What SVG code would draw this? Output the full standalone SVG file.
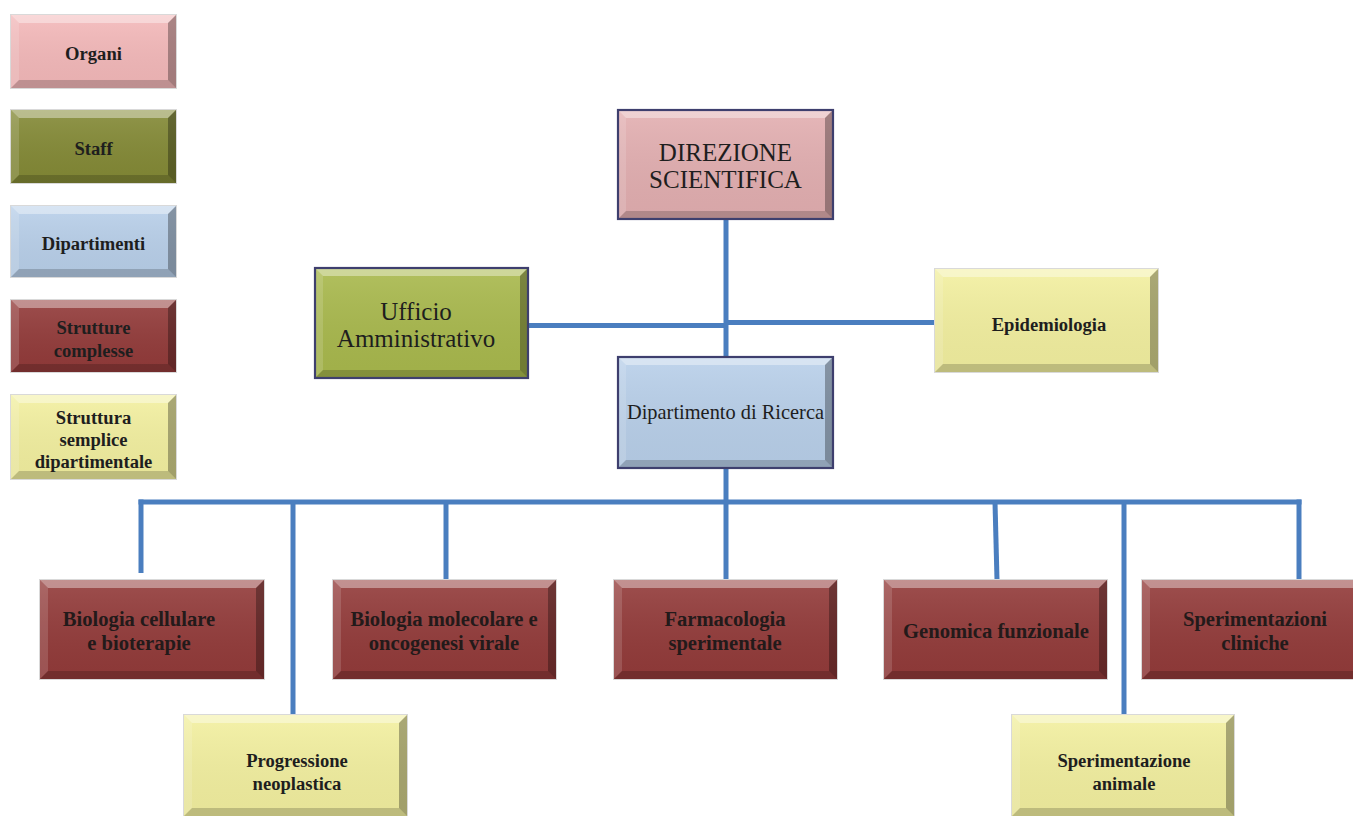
<svg xmlns="http://www.w3.org/2000/svg" width="1353" height="816" viewBox="0 0 1353 816">
  <defs>
    <style>
      .lbl { font-family: "Liberation Serif", "Times New Roman", serif; font-weight: bold; font-size: 18.6px; fill: #1e1e1e; text-anchor: middle; dominant-baseline: central; }
      .lbl.sc { font-size: 20.6px; fill: #231a1a; }
      .lbl.big { font-weight: normal; font-size: 25px; }
      .lbl.reg { font-weight: normal; font-size: 20.4px; }
      .edge { stroke: #d9d9d9; stroke-width: 1; fill: none; }
      .frame { stroke: #3e3f6e; stroke-width: 2.2; fill: none; }
      .hi { fill: #ffffff; fill-opacity: 0.38; }
      .hl { fill: #ffffff; fill-opacity: 0.14; }
      .sr { fill: #000000; fill-opacity: 0.3; }
      .sb { fill: #000000; fill-opacity: 0.18; }
      .pink { fill: #f4b9ba; }
      .rose { fill: #e3afb1; }
      .olive { fill: #848a36; }
      .lime { fill: #a9b94d; }
      .blue { fill: #b9d0ea; }
      .red { fill: #933b3a; }
      .yel { fill: #f3f0a0; }
      .conn line { stroke: #4a7ebf; stroke-width: 5; fill: none; }
    </style>
    <linearGradient id="sheen" x1="0" y1="0" x2="0" y2="1">
      <stop offset="0" stop-color="#ffffff" stop-opacity="0.1"/>
      <stop offset="1" stop-color="#000000" stop-opacity="0.05"/>
    </linearGradient>
  </defs>

  <!-- connectors -->
  <g id="connectors" class="conn">
    <line x1="726" y1="219" x2="726" y2="358"/>
    <line x1="528" y1="325.5" x2="728" y2="325.5"/>
    <line x1="726" y1="322.5" x2="935" y2="322.5"/>
    <line x1="726" y1="468" x2="726" y2="580"/>
    <line x1="138.5" y1="502" x2="1301.5" y2="502"/>
    <line x1="141" y1="499.5" x2="141" y2="573"/>
    <line x1="293" y1="502" x2="293" y2="715"/>
    <line x1="446" y1="502" x2="446" y2="582"/>
    <line x1="995" y1="502" x2="997" y2="580"/>
    <line x1="1124" y1="502" x2="1124" y2="715"/>
    <line x1="1299" y1="499.5" x2="1299" y2="584"/>
  </g>

  <!-- legend -->
  <g id="legend-organi" transform="translate(11,15)">
    <rect class="pink" width="165" height="73"/>
    <rect fill="url(#sheen)" width="165" height="73"/>
    <polygon class="hi" points="0,0 165,0 157,8 8,8"/>
    <polygon class="hl" points="0,0 8,8 8,65 0,73"/>
    <polygon class="sr" points="165,0 165,73 157,65 157,8"/>
    <polygon class="sb" points="0,73 165,73 157,65 8,65"/>
    <rect class="edge" x="-0.5" y="-0.5" width="166" height="74"/>
    <text class="lbl" x="82.5" y="38">Organi</text>
  </g>
  <g id="legend-staff" transform="translate(11,110)">
    <rect class="olive" width="165" height="73"/>
    <rect fill="url(#sheen)" width="165" height="73"/>
    <polygon class="hi" points="0,0 165,0 157,8 8,8"/>
    <polygon class="hl" points="0,0 8,8 8,65 0,73"/>
    <polygon class="sr" points="165,0 165,73 157,65 157,8"/>
    <polygon class="sb" points="0,73 165,73 157,65 8,65"/>
    <rect class="edge" x="-0.5" y="-0.5" width="166" height="74"/>
    <text class="lbl" x="82.5" y="38">Staff</text>
  </g>
  <g id="legend-dipartimenti" transform="translate(11,206)">
    <rect class="blue" width="165" height="71"/>
    <rect fill="url(#sheen)" width="165" height="71"/>
    <polygon class="hi" points="0,0 165,0 157,8 8,8"/>
    <polygon class="hl" points="0,0 8,8 8,63 0,71"/>
    <polygon class="sr" points="165,0 165,71 157,63 157,8"/>
    <polygon class="sb" points="0,71 165,71 157,63 8,63"/>
    <rect class="edge" x="-0.5" y="-0.5" width="166" height="72"/>
    <text class="lbl" x="82.5" y="37">Dipartimenti</text>
  </g>
  <g id="legend-strutture-complesse" transform="translate(11,300)">
    <rect class="red" width="165" height="72"/>
    <rect fill="url(#sheen)" width="165" height="72"/>
    <polygon class="hi" points="0,0 165,0 157,8 8,8"/>
    <polygon class="hl" points="0,0 8,8 8,64 0,72"/>
    <polygon class="sr" points="165,0 165,72 157,64 157,8"/>
    <polygon class="sb" points="0,72 165,72 157,64 8,64"/>
    <rect class="edge" x="-0.5" y="-0.5" width="166" height="73"/>
    <text class="lbl" x="82.5" y="27">Strutture</text>
    <text class="lbl" x="82.5" y="50">complesse</text>
  </g>
  <g id="legend-struttura-semplice" transform="translate(11,395)">
    <rect class="yel" width="165" height="84"/>
    <rect fill="url(#sheen)" width="165" height="84"/>
    <polygon class="hi" points="0,0 165,0 157,8 8,8"/>
    <polygon class="hl" points="0,0 8,8 8,76 0,84"/>
    <polygon class="sr" points="165,0 165,84 157,76 157,8"/>
    <polygon class="sb" points="0,84 165,84 157,76 8,76"/>
    <rect class="edge" x="-0.5" y="-0.5" width="166" height="85"/>
    <text class="lbl" x="82.5" y="22">Struttura</text>
    <text class="lbl" x="82.5" y="44">semplice</text>
    <text class="lbl" x="82.5" y="66">dipartimentale</text>
  </g>

  <!-- top level -->
  <g id="direzione-scientifica" transform="translate(618,110)">
    <rect class="rose" width="215" height="109"/>
    <rect fill="url(#sheen)" width="215" height="109"/>
    <polygon class="hi" points="0,0 215,0 207,8 8,8"/>
    <polygon class="hl" points="0,0 8,8 8,101 0,109"/>
    <polygon class="sr" points="215,0 215,109 207,101 207,8"/>
    <polygon class="sb" points="0,109 215,109 207,101 8,101"/>
    <rect class="frame" width="215" height="109"/>
    <text class="lbl big" x="107.5" y="42">DIREZIONE</text>
    <text class="lbl big" x="107.5" y="69">SCIENTIFICA</text>
  </g>
  <g id="ufficio-amministrativo" transform="translate(315,268)">
    <rect class="lime" width="213" height="110"/>
    <rect fill="url(#sheen)" width="213" height="110"/>
    <polygon class="hi" points="0,0 213,0 205,8 8,8"/>
    <polygon class="hl" points="0,0 8,8 8,102 0,110"/>
    <polygon class="sr" points="213,0 213,110 205,102 205,8"/>
    <polygon class="sb" points="0,110 213,110 205,102 8,102"/>
    <rect class="frame" width="213" height="110"/>
    <text class="lbl big" x="101" y="43">Ufficio</text>
    <text class="lbl big" x="101" y="70">Amministrativo</text>
  </g>
  <g id="epidemiologia" transform="translate(935,269)">
    <rect class="yel" width="223" height="103"/>
    <rect fill="url(#sheen)" width="223" height="103"/>
    <polygon class="hi" points="0,0 223,0 215,8 8,8"/>
    <polygon class="hl" points="0,0 8,8 8,95 0,103"/>
    <polygon class="sr" points="223,0 223,103 215,95 215,8"/>
    <polygon class="sb" points="0,103 223,103 215,95 8,95"/>
    <rect class="edge" x="-0.5" y="-0.5" width="224" height="104"/>
    <text class="lbl" x="114" y="55">Epidemiologia</text>
  </g>
  <g id="dipartimento-ricerca" transform="translate(618,357)">
    <rect class="blue" width="215" height="111"/>
    <rect fill="url(#sheen)" width="215" height="111"/>
    <polygon class="hi" points="0,0 215,0 207,8 8,8"/>
    <polygon class="hl" points="0,0 8,8 8,103 0,111"/>
    <polygon class="sr" points="215,0 215,111 207,103 207,8"/>
    <polygon class="sb" points="0,111 215,111 207,103 8,103"/>
    <rect class="frame" width="215" height="111"/>
    <text class="lbl reg" x="107.5" y="55">Dipartimento di Ricerca</text>
  </g>

  <!-- strutture complesse -->
  <g id="biologia-cellulare" transform="translate(40,580)">
    <rect class="red" width="224" height="99"/>
    <rect fill="url(#sheen)" width="224" height="99"/>
    <polygon class="hi" points="0,0 224,0 216,8 8,8"/>
    <polygon class="hl" points="0,0 8,8 8,91 0,99"/>
    <polygon class="sr" points="224,0 224,99 216,91 216,8"/>
    <polygon class="sb" points="0,99 224,99 216,91 8,91"/>
    <rect class="edge" x="-0.5" y="-0.5" width="225" height="100"/>
    <text class="lbl sc" x="99" y="39">Biologia cellulare</text>
    <text class="lbl sc" x="99" y="63">e bioterapie</text>
  </g>
  <g id="biologia-molecolare" transform="translate(333,580)">
    <rect class="red" width="223" height="99"/>
    <rect fill="url(#sheen)" width="223" height="99"/>
    <polygon class="hi" points="0,0 223,0 215,8 8,8"/>
    <polygon class="hl" points="0,0 8,8 8,91 0,99"/>
    <polygon class="sr" points="223,0 223,99 215,91 215,8"/>
    <polygon class="sb" points="0,99 223,99 215,91 8,91"/>
    <rect class="edge" x="-0.5" y="-0.5" width="224" height="100"/>
    <text class="lbl sc" x="111" y="39">Biologia molecolare e</text>
    <text class="lbl sc" x="111" y="63">oncogenesi virale</text>
  </g>
  <g id="farmacologia-sperimentale" transform="translate(614,580)">
    <rect class="red" width="223" height="99"/>
    <rect fill="url(#sheen)" width="223" height="99"/>
    <polygon class="hi" points="0,0 223,0 215,8 8,8"/>
    <polygon class="hl" points="0,0 8,8 8,91 0,99"/>
    <polygon class="sr" points="223,0 223,99 215,91 215,8"/>
    <polygon class="sb" points="0,99 223,99 215,91 8,91"/>
    <rect class="edge" x="-0.5" y="-0.5" width="224" height="100"/>
    <text class="lbl sc" x="111" y="39">Farmacologia</text>
    <text class="lbl sc" x="111" y="63">sperimentale</text>
  </g>
  <g id="genomica-funzionale" transform="translate(884,580)">
    <rect class="red" width="223" height="99"/>
    <rect fill="url(#sheen)" width="223" height="99"/>
    <polygon class="hi" points="0,0 223,0 215,8 8,8"/>
    <polygon class="hl" points="0,0 8,8 8,91 0,99"/>
    <polygon class="sr" points="223,0 223,99 215,91 215,8"/>
    <polygon class="sb" points="0,99 223,99 215,91 8,91"/>
    <rect class="edge" x="-0.5" y="-0.5" width="224" height="100"/>
    <text class="lbl sc" x="112" y="51">Genomica funzionale</text>
  </g>
  <g id="sperimentazioni-cliniche" transform="translate(1142,580)">
    <rect class="red" width="224" height="99"/>
    <rect fill="url(#sheen)" width="224" height="99"/>
    <polygon class="hi" points="0,0 224,0 216,8 8,8"/>
    <polygon class="hl" points="0,0 8,8 8,91 0,99"/>
    <polygon class="sr" points="224,0 224,99 216,91 216,8"/>
    <polygon class="sb" points="0,99 224,99 216,91 8,91"/>
    <rect class="edge" x="-0.5" y="-0.5" width="225" height="100"/>
    <text class="lbl sc" x="113" y="39">Sperimentazioni</text>
    <text class="lbl sc" x="113" y="63">cliniche</text>
  </g>

  <!-- strutture semplici dipartimentali -->
  <g id="progressione-neoplastica" transform="translate(184,715)">
    <rect class="yel" width="223" height="101"/>
    <rect fill="url(#sheen)" width="223" height="101"/>
    <polygon class="hi" points="0,0 223,0 215,8 8,8"/>
    <polygon class="hl" points="0,0 8,8 8,93 0,101"/>
    <polygon class="sr" points="223,0 223,101 215,93 215,8"/>
    <polygon class="sb" points="0,101 223,101 215,93 8,93"/>
    <rect class="edge" x="-0.5" y="-0.5" width="224" height="102"/>
    <text class="lbl" x="113" y="45">Progressione</text>
    <text class="lbl" x="113" y="68">neoplastica</text>
  </g>
  <g id="sperimentazione-animale" transform="translate(1012,715)">
    <rect class="yel" width="222" height="101"/>
    <rect fill="url(#sheen)" width="222" height="101"/>
    <polygon class="hi" points="0,0 222,0 214,8 8,8"/>
    <polygon class="hl" points="0,0 8,8 8,93 0,101"/>
    <polygon class="sr" points="222,0 222,101 214,93 214,8"/>
    <polygon class="sb" points="0,101 222,101 214,93 8,93"/>
    <rect class="edge" x="-0.5" y="-0.5" width="223" height="102"/>
    <text class="lbl" x="112" y="45">Sperimentazione</text>
    <text class="lbl" x="112" y="68">animale</text>
  </g>
</svg>
